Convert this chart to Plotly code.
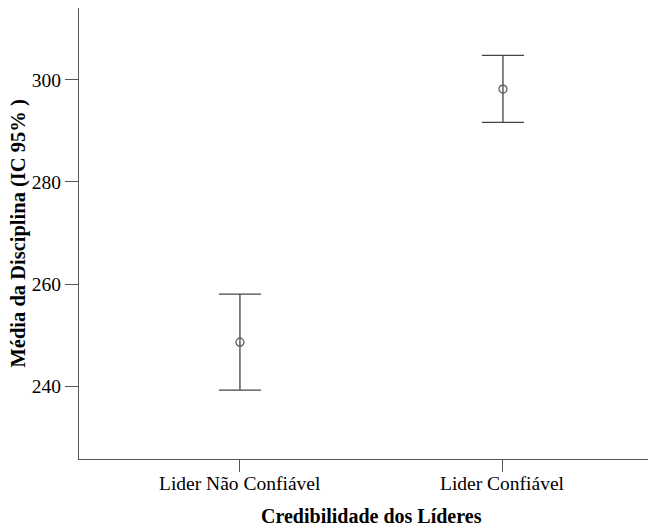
import plotly.graph_objects as go

categories = ["Lider Não Confiável", "Lider Confiável"]
means = [248.6, 298.2]
upper = [258.0, 304.8]
lower = [239.2, 291.7]
y_ticks = [240, 260, 280, 300]

xpos = list(range(len(categories)))
err_plus = [u - m for u, m in zip(upper, means)]
err_minus = [m - l for m, l in zip(means, lower)]

fig = go.Figure()
fig.add_trace(go.Scatter(
    x=xpos, y=means, mode="markers",
    marker=dict(symbol="circle-open", size=8, color="#555555", line=dict(width=1.2)),
    error_y=dict(type="data", symmetric=False, array=err_plus, arrayminus=err_minus,
                 color="#444444", thickness=1.3, width=21),
    showlegend=False, hoverinfo="skip",
))

font_family = "Liberation Serif"

tick_annotations = [
    dict(text=lab, xref="x", yref="paper", x=xi, y=0, xanchor="center", yanchor="middle",
         yshift=-24, showarrow=False, font=dict(family=font_family, size=19.5, color="black"))
    for xi, lab in zip(xpos, categories)
]

fig.update_layout(
    width=648, height=518,
    margin=dict(l=71, r=0, t=0, b=67),
    paper_bgcolor="white", plot_bgcolor="white",
    font=dict(family=font_family, size=19, color="black"),
    xaxis=dict(
        range=[-0.612, 1.582], tickvals=xpos, showticklabels=False,
        showgrid=False, zeroline=False, showline=True, linecolor="#555555", linewidth=1.3,
        mirror=True, ticks="outside", ticklen=12, tickcolor="#555555", tickwidth=1.3,
    ),
    yaxis=dict(
        range=[225.7, 314.1], tickvals=y_ticks,
        showgrid=False, zeroline=False, showline=True, linecolor="#555555", linewidth=1.3,
        ticks="outside", ticklen=13, tickcolor="#555555", tickwidth=1.3,
        tickfont=dict(family=font_family, size=19.5, color="black"),
    ),
    annotations=tick_annotations + [
        dict(text="<b>Credibilidade dos Líderes</b>", xref="x", yref="paper",
             x=0.5, y=0, yanchor="middle", xanchor="center", yshift=-57,
             showarrow=False, font=dict(family=font_family, size=20, color="black")),
        dict(text="<b>Média da Disciplina (IC 95% )</b>", xref="paper", yref="paper",
             x=0, y=0.5, xanchor="center", yanchor="middle", xshift=-61, textangle=-90,
             showarrow=False, font=dict(family=font_family, size=20.5, color="black")),
    ],
)

fig.write_html("out.html")
